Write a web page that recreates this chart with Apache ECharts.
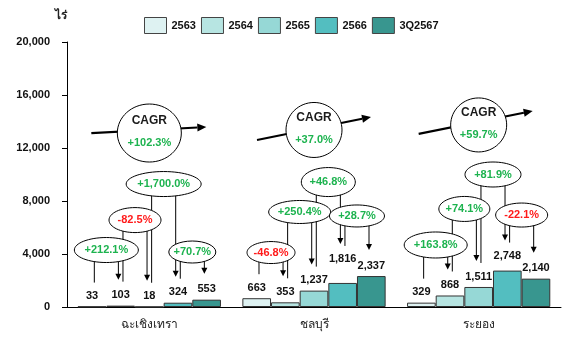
<!DOCTYPE html>
<html>
<head>
<meta charset="utf-8">
<script src="https://cdn.jsdelivr.net/npm/echarts@6/dist/echarts.min.js"></script>
<style>
  html, body { margin: 0; padding: 0; background: #ffffff; }
  #chart { width: 563px; height: 338px; }
</style>
</head>
<body>
<div id="chart"></div>
<script>
// ---- data ----
const regions = ['ฉะเชิงเทรา', 'ชลบุรี', 'ระยอง'];
const years = ['2563', '2564', '2565', '2566', '3Q2567'];
const area2563 = [33, 663, 329];
const area2564 = [103, 353, 868];
const area2565 = [18, 1237, 1511];
const area2566 = [324, 1816, 2748];
const area3Q2567 = [553, 2337, 2140];
const changeLabels = [
  ['+212.1%', '-82.5%', '+1,700.0%', '+70.7%'],
  ['-46.8%', '+250.4%', '+46.8%', '+28.7%'],
  ['+163.8%', '+74.1%', '+81.9%', '-22.1%']
];
const cagrLabels = ['+102.3%', '+37.0%', '+59.7%'];
const yMin = 0;
const yMax = 20000;
const yStep = 4000;

// ---- layout & style ----
const yearSeries = [area2563, area2564, area2565, area2566, area3Q2567];
const barColors = ['#DEF2F2', '#B7E5E2', '#96D8D6', '#53BEC0', '#38968F'];
const CATEGORY_GAP = 0.13;
const FAMILY = '"Liberation Sans", Arial, sans-serif';
const GREEN = '#1DB34F';
const RED = '#FF1A1A';
// extra lift (px) for value labels that sit higher than the rest
const labelLift = [[0, 0, 0], [0, 0, 0], [0, 0, 0], [0, 13, 4], [0, 0, 0]];
// height (axis units) of each change bubble and its size in px
const bubbleLevels = [[4300, 6560, 9280, 4150], [4110, 7170, 9430, 6870], [4680, 7400, 10000, 6940]];
const bubbleSizes = [
  [[64, 25], [52, 25], [75, 25], [47, 22]],
  [[48, 22], [62, 23], [54, 29], [55, 22]],
  [[63, 26], [51, 25], [56, 25], [52, 24]]
];
const cagrLevels = [13130, 13360, 13740];
const cagrSizes = [[64, 58], [56, 55], [56, 54]];
// trend arrow: [dxStart, dyStart, dxEnd, dyEnd] relative to bubble centre
const cagrArrows = [[-58, 0, 57, -6], [-57, 10, 57, -13], [-60, 9, 54, -14]];

const chart = echarts.init(document.getElementById('chart'), null, { renderer: 'canvas' });

function groupGeometry(api, region) {
  const base = api.coord([region, 0]);
  const band = api.size([1, 0])[0];
  const bw = band * (1 - CATEGORY_GAP) / years.length;
  return { cx: base[0], start: base[0] - bw * years.length / 2, bw: bw };
}

function labelCenterY(api, region, k) {
  const v = yearSeries[k][region];
  return api.coord([region, v])[1] - 11 - labelLift[k][region];
}

function arrowHead(x, y, size) {
  return {
    type: 'polygon', z2: 1,
    shape: { points: [[x - size / 2, y - size], [x + size / 2, y - size], [x, y]] },
    style: { fill: '#000' }
  };
}

function renderChange(params, api) {
  const region = api.value(0);
  const step = api.value(1);
  const g = groupGeometry(api, region);
  const boundary = g.start + (step + 1) * g.bw;
  const off = g.bw * 0.42;
  const cy = api.coord([region, bubbleLevels[region][step]])[1];
  const size = bubbleSizes[region][step];
  const leftX = boundary - off;
  const rightX = boundary + off;
  const leftEnd = labelCenterY(api, region, step) - 13;
  const rightEnd = labelCenterY(api, region, step + 1) - 15;
  const text = changeLabels[region][step];
  return {
    type: 'group',
    children: [
      { type: 'line', z2: 1, shape: { x1: leftX, y1: cy, x2: leftX, y2: leftEnd },
        style: { stroke: '#000', lineWidth: 1 } },
      { type: 'line', z2: 1, shape: { x1: rightX, y1: cy, x2: rightX, y2: rightEnd - 5 },
        style: { stroke: '#000', lineWidth: 1 } },
      arrowHead(rightX, rightEnd, 6),
      { type: 'ellipse', z2: 10, shape: { cx: boundary, cy: cy, rx: size[0] / 2, ry: size[1] / 2 },
        style: { fill: '#fff', stroke: '#000', lineWidth: 1 } },
      { type: 'text', z2: 11, style: { text: text, x: boundary, y: cy, align: 'center', verticalAlign: 'middle',
        fontFamily: FAMILY, fontWeight: 'bold', fontSize: 11,
        fill: text.charAt(0) === '-' ? RED : GREEN } }
    ]
  };
}

function renderCagr(params, api) {
  const region = api.value(0);
  const g = groupGeometry(api, region);
  const cx = g.cx;
  const cy = api.coord([region, cagrLevels[region]])[1];
  const a = cagrArrows[region];
  const x1 = cx + a[0], y1 = cy + a[1], x2 = cx + a[2], y2 = cy + a[3];
  const ang = Math.atan2(y2 - y1, x2 - x1);
  const hl = 9, hw = 4;
  const bx = x2 - hl * Math.cos(ang), by = y2 - hl * Math.sin(ang);
  const size = cagrSizes[region];
  return {
    type: 'group',
    children: [
      { type: 'line', z2: 1, shape: { x1: x1, y1: y1, x2: bx, y2: by },
        style: { stroke: '#000', lineWidth: 2.2 } },
      { type: 'polygon', z2: 1, shape: { points: [
          [x2, y2],
          [bx + hw * Math.sin(ang), by - hw * Math.cos(ang)],
          [bx - hw * Math.sin(ang), by + hw * Math.cos(ang)]
        ] }, style: { fill: '#000' } },
      { type: 'ellipse', z2: 10, shape: { cx: cx, cy: cy, rx: size[0] / 2, ry: size[1] / 2 },
        style: { fill: '#fff', stroke: '#000', lineWidth: 1 } },
      { type: 'text', z2: 11, style: { text: 'CAGR', x: cx, y: cy - 12, align: 'center', verticalAlign: 'middle',
        fontFamily: FAMILY, fontWeight: 'bold', fontSize: 12, fill: '#1a1a1a' } },
      { type: 'text', z2: 11, style: { text: cagrLabels[region], x: cx, y: cy + 10, align: 'center', verticalAlign: 'middle',
        fontFamily: FAMILY, fontWeight: 'bold', fontSize: 11, fill: GREEN } }
    ]
  };
}

const barSeries = years.map(function (year, k) {
  return {
    name: year,
    type: 'bar',
    barGap: 0,
    barCategoryGap: (CATEGORY_GAP * 100) + '%',
    itemStyle: { color: barColors[k], borderColor: '#333', borderWidth: 1 },
    label: {
      show: true, position: 'top', color: '#111',
      fontFamily: FAMILY, fontWeight: 'bold', fontSize: 11,
      formatter: function (p) { return echarts.format.addCommas(p.value); }
    },
    data: yearSeries[k].map(function (v, r) {
      return { value: v, label: { distance: 5 + labelLift[k][r] } };
    })
  };
});

const changeData = [];
regions.forEach(function (_, r) {
  changeLabels[r].forEach(function (_, s) { changeData.push([r, s]); });
});

chart.setOption({
  animation: false,
  backgroundColor: '#fff',
  textStyle: { fontFamily: FAMILY },
  grid: { left: 67, right: 2, top: 42, bottom: 31 },
  legend: {
    data: years,
    top: 17, left: 144,
    padding: 0,
    itemWidth: 22, itemHeight: 16, itemGap: 5,
    icon: 'rect',
    itemStyle: { borderColor: '#444', borderWidth: 1 },
    textStyle: { fontWeight: 'bold', fontSize: 11, color: '#111' }
  },
  xAxis: {
    type: 'category',
    data: regions,
    axisLine: { lineStyle: { color: '#000', width: 1 } },
    axisTick: { show: false },
    axisLabel: { margin: 12, fontSize: 12, color: '#222' },
    splitLine: { show: false }
  },
  yAxis: {
    type: 'value',
    min: yMin, max: yMax, interval: yStep,
    name: 'ไร่',
    nameLocation: 'end',
    nameGap: 20,
    nameTextStyle: { align: 'right', fontSize: 12, fontWeight: 'bold', color: '#222' },
    axisLine: { show: true, lineStyle: { color: '#000', width: 1 } },
    axisTick: { show: true, length: 5, lineStyle: { color: '#000' } },
    axisLabel: { margin: 17, fontWeight: 'bold', fontSize: 11, color: '#111',
      formatter: function (v) { return echarts.format.addCommas(v); } },
    splitLine: { show: false }
  },
  series: barSeries.concat([
    {
      type: 'custom', name: 'change', silent: true, z: 5,
      renderItem: renderChange,
      encode: { x: 0, y: 1 },
      data: changeData
    },
    {
      type: 'custom', name: 'cagr', silent: true, z: 5,
      renderItem: renderCagr,
      encode: { x: 0, y: 1 },
      data: regions.map(function (_, r) { return [r, 0]; })
    }
  ])
});
</script>
</body>
</html>
